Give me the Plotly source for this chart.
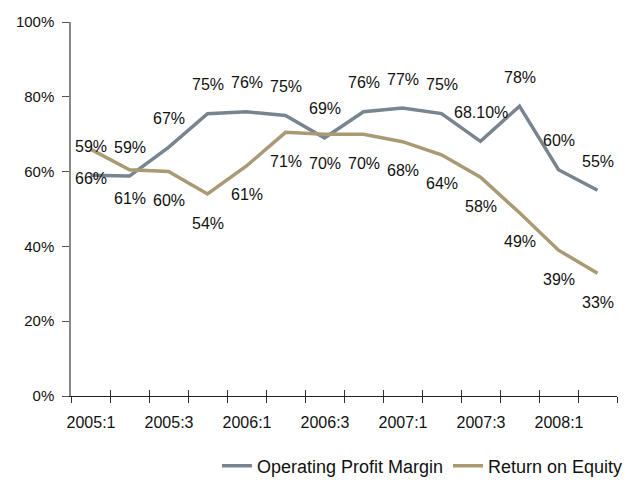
import plotly.graph_objects as go

CATEGORIES = ["2005:1", "2005:2", "2005:3", "2005:4", "2006:1", "2006:2", "2006:3",
              "2006:4", "2007:1", "2007:2", "2007:3", "2007:4", "2008:1", "2008:2"]
TICK_LABELS = ["2005:1", "2005:3", "2006:1", "2006:3", "2007:1", "2007:3", "2008:1"]
Y_TICKS = [0, 20, 40, 60, 80, 100]
Y_TICK_LABELS = ["0%", "20%", "40%", "60%", "80%", "100%"]

OPM_VALUES = [59, 58.8, 66.5, 75.5, 76, 75, 69, 76, 77, 75.5, 68.1, 77.5, 60.5, 55]
OPM_LABELS = ["59%", "59%", "67%", "75%", "76%", "75%", "69%", "76%", "77%", "75%",
              "68.10%", "78%", "60%", "55%"]
ROE_VALUES = [66, 60.5, 60, 54, 61.5, 70.5, 70, 70, 68, 64.5, 58.5, 49, 39, 32.8]
ROE_LABELS = ["66%", "61%", "60%", "54%", "61%", "71%", "70%", "70%", "68%", "64%",
              "58%", "49%", "39%", "33%"]

GRAY = "#78848F"
TAN = "#A99A74"
FONT = "Liberation Sans, Arial, sans-serif"

# page body has an 8px default margin: size the figure so the plot area lands
# at x 71..617, y 22..396 of the 634x484 window
W, H = 626, 476
ML, MR, MT, MB = 63, 17, 14, 88

n = len(CATEGORIES)
idx = list(range(n))                       # category positions
boundaries = [i - 0.5 for i in range(n + 1)]
boundary_text = []
for b in boundaries:
    c = int(b + 0.5)
    boundary_text.append(CATEGORIES[c] if c < n and CATEGORIES[c] in TICK_LABELS else "")
x_range = [-0.5, n - 0.5]
half_cat_px = int(round((W - ML - MR) / n / 2))

fig = go.Figure()
fig.add_trace(go.Scatter(x=idx, y=OPM_VALUES, mode="lines",
                         name="Operating Profit Margin", text=CATEGORIES,
                         line=dict(color=GRAY, width=3.5)))
fig.add_trace(go.Scatter(x=idx, y=ROE_VALUES, mode="lines",
                         name="Return on Equity", text=CATEGORIES,
                         line=dict(color=TAN, width=3.5)))
# invisible helper so the overlay axis (inner half of crossing ticks) is drawn
fig.add_trace(go.Scatter(x=idx, y=ROE_VALUES, mode="lines", xaxis="x2",
                         line=dict(color="rgba(0,0,0,0)", width=0),
                         showlegend=False, hoverinfo="skip"))

annotations = []
for i, v, t in zip(idx, OPM_VALUES, OPM_LABELS):
    annotations.append(dict(x=i, y=v, text=t, showarrow=False, yshift=29,
                            font=dict(size=16, color="#111111", family=FONT)))
for i, v, t in zip(idx, ROE_VALUES, ROE_LABELS):
    annotations.append(dict(x=i, y=v, text=t, showarrow=False, yshift=-29,
                            font=dict(size=16, color="#111111", family=FONT)))

fig.update_layout(
    width=W, height=H,
    paper_bgcolor="white", plot_bgcolor="white",
    margin=dict(l=ML, r=MR, t=MT, b=MB, autoexpand=False),
    font=dict(family=FONT, size=16, color="#111111"),
    xaxis=dict(range=x_range, tickmode="array", tickvals=boundaries,
               ticktext=boundary_text, ticklabelshift=half_cat_px,
               ticklabelstandoff=6,
               ticks="outside", ticklen=6, tickcolor="#333333", tickangle=0,
               showline=True, linecolor="#222222", linewidth=1,
               showgrid=False, zeroline=False, automargin=False,
               tickfont=dict(size=16)),
    xaxis2=dict(range=x_range, tickmode="array", tickvals=boundaries,
                ticks="inside", ticklen=6, tickcolor="#333333",
                showticklabels=False, overlaying="x", anchor="y", side="bottom",
                showline=False, showgrid=False, zeroline=False, automargin=False),
    yaxis=dict(range=[0, 100], tickmode="array", tickvals=Y_TICKS,
               ticktext=Y_TICK_LABELS, ticklabelstandoff=5,
               ticks="outside", ticklen=7, tickcolor="#555555",
               showline=True, linecolor="#888888", linewidth=1.5,
               showgrid=False, zeroline=False, automargin=False,
               tickfont=dict(size=15)),
    legend=dict(orientation="h", x=1.02, xanchor="right", y=-0.187, yanchor="middle",
                font=dict(size=18, family=FONT), bgcolor="rgba(0,0,0,0)"),
    annotations=annotations,
    showlegend=True,
)

fig.write_html("out.html")
